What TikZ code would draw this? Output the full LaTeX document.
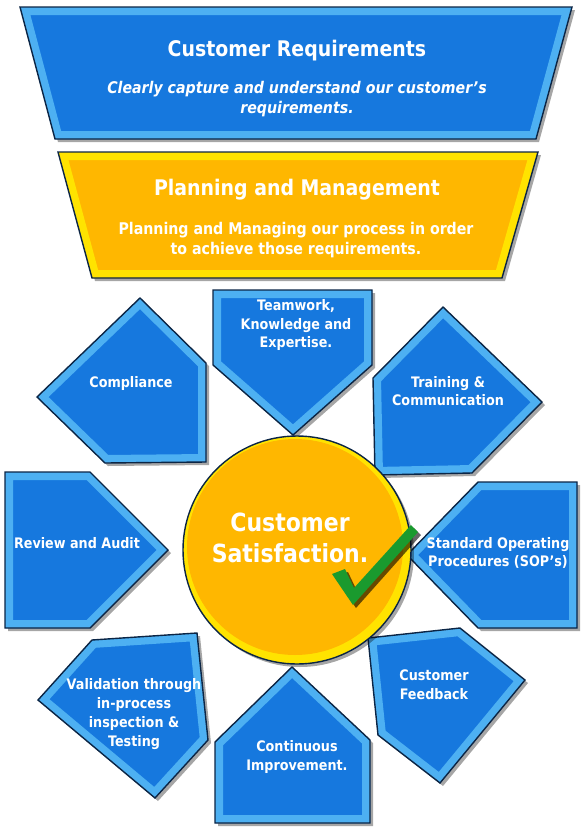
\documentclass[tikz,border=0pt]{standalone}
\usepackage{fontspec}
\setmainfont{DejaVu Sans}[FakeStretch=0.88]
\usepackage{tikz}

\definecolor{mainblue}{HTML}{1678DE}
\definecolor{bevelblue}{HTML}{4DB0F2}
\definecolor{rimnavy}{HTML}{0B2545}
\definecolor{mainamber}{HTML}{FFB700}
\definecolor{bevelamber}{HTML}{FFE300}
\definecolor{tickgreen}{HTML}{1A9A2E}

\tikzset{
  rim/.style={draw=rimnavy, line width=1.4pt, line join=miter},
  dropshadow/.style={fill=black, opacity=0.35},
  lbl/.style={text=white, align=center, font=\bfseries\fontsize{14.5}{18.8}\selectfont},
  headtxt/.style={text=white, align=center, font=\bfseries\fontsize{21.5}{26}\selectfont},
  bodytxt/.style={text=white, align=center, font=\bfseries\fontsize{16.1}{19.5}\selectfont},
  bigtxt/.style={text=white, align=center, font=\bfseries\fontsize{25}{31}\selectfont}
}

% #1 outline, #2 face colour, #3 bevel colour
\newcommand{\bevelbox}[3]{%
  \fill[dropshadow, xshift=3pt, yshift=-3pt] #1 -- cycle;
  \fill[#2] #1 -- cycle;
  \begin{scope}
    \clip #1 -- cycle;
    \draw[#3, line width=16pt, line join=miter] #1 -- cycle;
  \end{scope}
  \draw[rim] #1 -- cycle;
}

\begin{document}
\begin{tikzpicture}[x=1pt,y=-1pt]
\tikzstyle{every node}+=[inner sep=0pt]
\useasboundingbox (0,0) rectangle (585,831);

\bevelbox{(20,7) -- (572,7) -- (536,139) -- (55,139)}{mainblue}{bevelblue}
\node[headtxt] (req) at (297,51) {Customer Requirements};
\node[bodytxt, font=\bfseries\itshape\fontsize{16.1}{19.5}\selectfont] (reqtxt) at (297,99) {Clearly capture and understand our customer’s\\requirements.};

\bevelbox{(58,152) -- (538,152) -- (502,278) -- (92,278)}{mainamber}{bevelamber}
\node[headtxt] (plan) at (297,190) {Planning and Management};
\node[bodytxt] (plantxt) at (296,240) {Planning and Managing our process in order\\to achieve those requirements.};

\bevelbox{(213,290) -- (372,290) -- (372,365) -- (293,435) -- (213,365)}{mainblue}{bevelblue}
\node[lbl] (team) at (296,325) {Teamwork,\\Knowledge and\\Expertise.};

\bevelbox{(140,298) -- (206,363) -- (206,462) -- (105,463) -- (37,397)}{mainblue}{bevelblue}
\node[lbl] (comp) at (131,383) {Compliance};

\bevelbox{(443,307) -- (542,402) -- (472,473) -- (375,475) -- (373,378)}{mainblue}{bevelblue}
\node[lbl] (train) at (448,391) {Training \&\\Communication};

\bevelbox{(5,472) -- (90,472) -- (168,550) -- (90,628) -- (5,628)}{mainblue}{bevelblue}
\node[lbl] (audit) at (77,543) {Review and Audit};

\bevelbox{(478,482) -- (577,482) -- (577,628) -- (478,628) -- (407,555)}{mainblue}{bevelblue}
\node[lbl] (sop) at (498,553) {Standard Operating\\Procedures (SOP’s)};

\bevelbox{(197,633) -- (208,740) -- (155,798) -- (38,700) -- (92,640)}{mainblue}{bevelblue}
\node[lbl] (valid) at (134,714) {Validation through\\in-process\\inspection \&\\Testing};

\bevelbox{(292,667) -- (370,740) -- (370,823) -- (215,823) -- (215,742)}{mainblue}{bevelblue}
\node[lbl] (improve) at (297,757) {Continuous\\Improvement.};

\bevelbox{(368,638) -- (460,628) -- (525,680) -- (440,783) -- (378,735)}{mainblue}{bevelblue}
\node[lbl] (feedback) at (434,685) {Customer\\Feedback};

\fill[dropshadow] (300,553) circle[radius=114pt];
\fill[bevelamber] (297,550) circle[radius=114pt];
\fill[mainamber] (295,547) circle[radius=108pt];
\draw[rim] (297,550) circle[radius=114pt];
\node[bigtxt] (sat) at (290,538) {Customer\\Satisfaction.};

\fill[black, opacity=0.6, xshift=3pt, yshift=-3pt] (332,574) -- (345,569) -- (354,588) -- (411,525) -- (418,532) -- (353,605) -- cycle;
\fill[tickgreen] (332,574) -- (345,569) -- (354,588) -- (411,525) -- (418,532) -- (353,605) -- cycle;
\end{tikzpicture}
\end{document}
